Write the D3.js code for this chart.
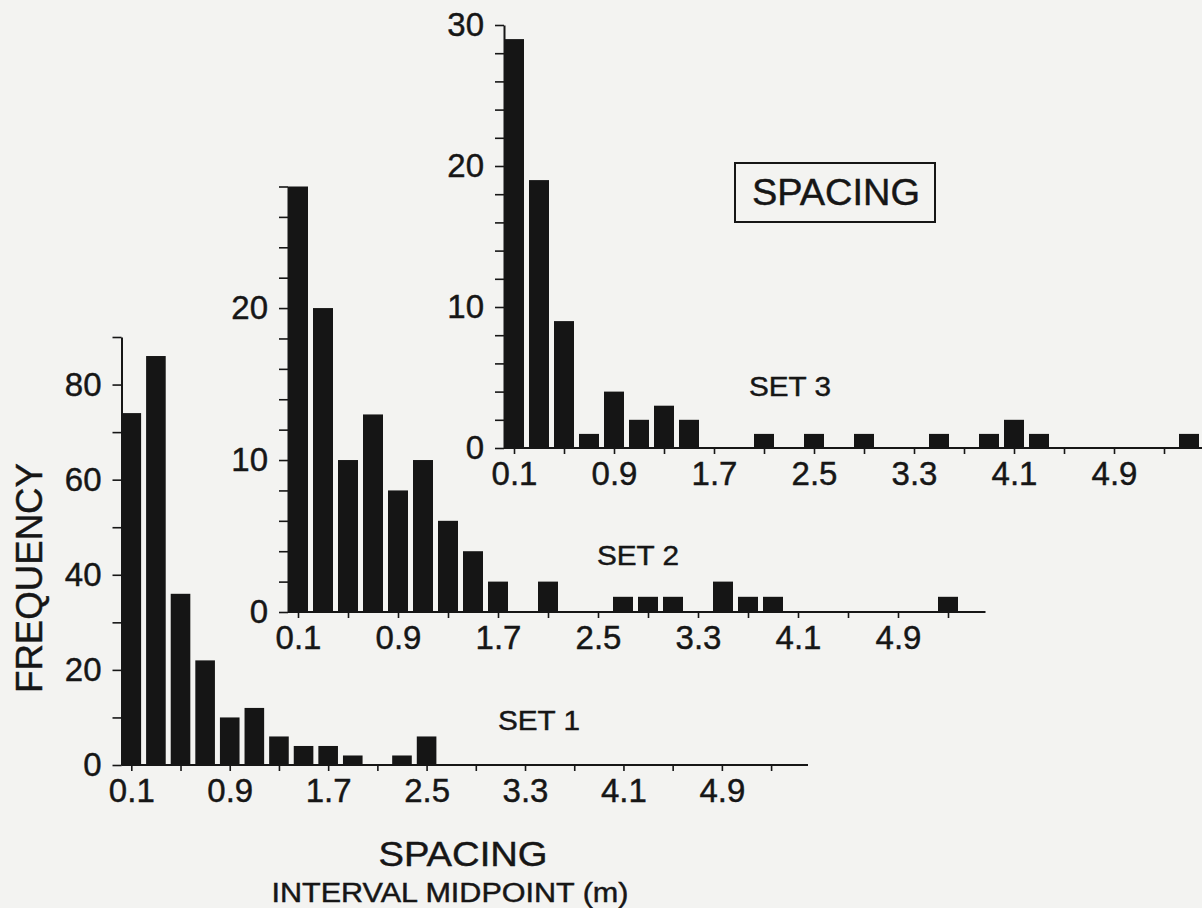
<!DOCTYPE html>
<html lang="en">
  <head>
    <meta charset="UTF-8" />
    <title>Spacing histograms</title>
    <script src="https://d3js.org/d3.v7.min.js"></script>
    <style>
      html, body { margin: 0; padding: 0; background: #f3f3f1; }
      svg { display: block; }
      text { font-family: "Liberation Sans", Arial, Helvetica, sans-serif; fill: #161616; stroke: #161616; stroke-width: 0.45px; }
    </style>
  </head>
  <body>
    <div id="my_dataviz"></div>

    <script>
      // bin midpoints (m), 0.2 m wide bins
      const binMids = [0.1, 0.3, 0.5, 0.7, 0.9, 1.1, 1.3, 1.5, 1.7, 1.9, 2.1, 2.3, 2.5, 2.7,
                       2.9, 3.1, 3.3, 3.5, 3.7, 3.9, 4.1, 4.3, 4.5, 4.7, 4.9, 5.1, 5.3, 5.5];

      const set1Counts = [74, 86, 36, 22, 10, 12, 6, 4, 4, 2, 0, 2, 6, 0,
                          0, 0, 0, 0, 0, 0, 0, 0, 0, 0, 0, 0, 0, 0];
      const set2Counts = [28, 20, 10, 13, 8, 10, 6, 4, 2, 0, 2, 0, 0, 1,
                          1, 1, 0, 2, 1, 1, 0, 0, 0, 0, 0, 0, 1, 0];
      const set3Counts = [29, 19, 9, 1, 4, 2, 3, 2, 0, 0, 1, 0, 1, 0,
                          1, 0, 0, 1, 0, 1, 2, 1, 0, 0, 0, 0, 0, 1];

      const xTickValues = [0.1, 0.5, 0.9, 1.3, 1.7, 2.1, 2.5, 2.9, 3.3, 3.7, 4.1, 4.5, 4.9, 5.3];
      const xTickLabels = ['0.1', '0.9', '1.7', '2.5', '3.3', '4.1', '4.9'];

      const set1YLabels = [0, 20, 40, 60, 80];
      const set2YLabels = [0, 10, 20];
      const set3YLabels = [0, 10, 20, 30];

      (function (d3) {
        const width = 1202;
        const height = 908;
        const binWidth = 0.2;

        const svg = d3.select('#my_dataviz')
          .append('svg')
            .attr('width', width)
            .attr('height', height);

        // each panel sits offset up and right of the previous one
        const panels = [
          { name: 'SET 1', counts: set1Counts, yLabels: set1YLabels, yMax: 90, yMinor: 10,
            xDomain: [0, 5.6], xRange: [119, 808], yRange: [765, 337],
            label: [498, 730] },
          { name: 'SET 2', counts: set2Counts, yLabels: set2YLabels, yMax: 28, yMinor: 2,
            xDomain: [0, 5.6], xRange: [285.5, 985.5], yRange: [612, 186.5],
            label: [597, 565] },
          { name: 'SET 3', counts: set3Counts, yLabels: set3YLabels, yMax: 30, yMinor: 2,
            xDomain: [0, 5.8], xRange: [501.5, 1226.5], yRange: [448, 25],
            label: [749, 396] }
        ];

        const drawPanel = p => {
          const g = svg.append('g');

          const xScale = d3.scaleLinear().domain(p.xDomain).range(p.xRange);
          const yScale = d3.scaleLinear().domain([0, p.yMax]).range(p.yRange);
          const axisX = xScale(0) + 2.5;

          // bars
          g.selectAll('.bar')
            .data(binMids.map((m, i) => ({ mid: m, count: p.counts[i] })).filter(d => d.count > 0))
            .enter()
            .append('rect')
              .attr('x', d => xScale(d.mid - binWidth / 2) + 2.5)
              .attr('width', d => xScale(d.mid + binWidth / 2) - xScale(d.mid - binWidth / 2) - 5)
              .attr('y', d => yScale(d.count))
              .attr('height', d => yScale(0) - yScale(d.count))
              .style('fill', '#151515');

          // x axis
          const xAxis = g.append('g')
            .attr('transform', `translate(0, ${yScale(0)})`)
            .call(d3.axisBottom(xScale)
              .tickValues(xTickValues)
              .tickSize(6)
              .tickSizeOuter(0)
              .tickPadding(8)
              .tickFormat((v, i) => i % 2 === 0 ? xTickLabels[i / 2] : ''));

          xAxis.select('.domain')
            .attr('d', `M${axisX},0H${p.xRange[1]}`)
            .attr('stroke', '#161616')
            .attr('stroke-width', 2);

          xAxis.selectAll('.tick line')
            .attr('stroke', '#161616')
            .attr('stroke-width', 1.6);

          xAxis.selectAll('.tick text')
            .style('font-size', '33px')
            .style('font-family', '"Liberation Sans", Arial, sans-serif')
            .attr('fill', '#161616');

          // y axis
          const yAxis = g.append('g')
            .attr('transform', `translate(${axisX}, 0)`)
            .call(d3.axisLeft(yScale)
              .tickValues(d3.range(0, p.yMax + 0.01, p.yMinor))
              .tickSize(9)
              .tickSizeOuter(0)
              .tickPadding(11)
              .tickFormat(v => p.yLabels.includes(v) ? v : ''));

          yAxis.select('.domain')
            .attr('stroke', '#161616')
            .attr('stroke-width', 2);

          yAxis.selectAll('.tick line')
            .attr('stroke', '#161616')
            .attr('stroke-width', 1.6);

          yAxis.selectAll('.tick text')
            .style('font-size', '33px')
            .style('font-family', '"Liberation Sans", Arial, sans-serif')
            .attr('fill', '#161616');

          g.append('text')
            .attr('x', p.label[0])
            .attr('y', p.label[1])
            .attr('textLength', 82)
            .attr('lengthAdjust', 'spacingAndGlyphs')
            .style('font-size', '27px')
            .text(p.name);
        };

        panels.forEach(drawPanel);

        // boxed title
        svg.append('rect')
          .attr('x', 735)
          .attr('y', 163)
          .attr('width', 200)
          .attr('height', 59)
          .style('fill', 'none')
          .attr('stroke', '#161616')
          .attr('stroke-width', 2);

        svg.append('text')
          .attr('x', 752)
          .attr('y', 205)
          .attr('textLength', 168)
          .attr('lengthAdjust', 'spacingAndGlyphs')
          .style('font-size', '36px')
          .text('SPACING');

        // axis titles
        svg.append('text')
          .attr('transform', 'translate(42, 578) rotate(-90)')
          .attr('text-anchor', 'middle')
          .attr('textLength', 230)
          .attr('lengthAdjust', 'spacingAndGlyphs')
          .style('font-size', '37px')
          .text('FREQUENCY');

        svg.append('text')
          .attr('x', 463)
          .attr('y', 866)
          .attr('text-anchor', 'middle')
          .attr('textLength', 169)
          .attr('lengthAdjust', 'spacingAndGlyphs')
          .style('font-size', '35px')
          .text('SPACING');

        svg.append('text')
          .attr('x', 450)
          .attr('y', 902)
          .attr('text-anchor', 'middle')
          .attr('textLength', 357)
          .attr('lengthAdjust', 'spacingAndGlyphs')
          .style('font-size', '27px')
          .text('INTERVAL MIDPOINT (m)');
      })(d3);
    </script>
  </body>
</html>
